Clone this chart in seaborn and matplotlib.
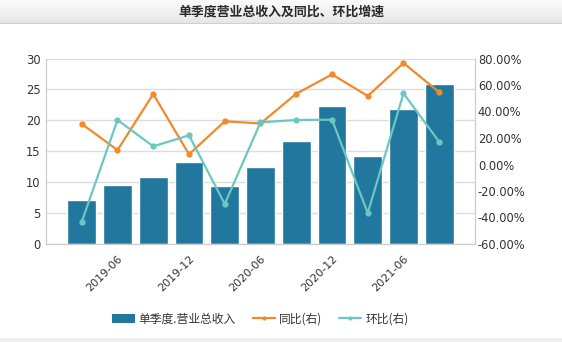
import numpy as np
import pandas as pd
import matplotlib
matplotlib.use("Agg")
import matplotlib.pyplot as plt
from matplotlib.patches import Patch
from matplotlib.lines import Line2D
from matplotlib.ticker import FuncFormatter, MultipleLocator
import seaborn as sns

# Quarterly revenue (single quarter) and growth rates
quarters = ["2019-03", "2019-06", "2019-09", "2019-12", "2020-03", "2020-06",
            "2020-09", "2020-12", "2021-03", "2021-06", "2021-09"]
revenue = [7.1, 9.5, 10.8, 13.2, 9.3, 12.4, 16.6, 22.3, 14.2, 21.9, 25.8]
yoy_pct = [30.6, 10.9, 53.2, 7.7, 32.6, 31.0, 53.4, 68.0, 51.7, 76.6, 54.5]
qoq_pct = [-43.2, 33.6, 13.7, 22.0, -29.8, 31.8, 33.6, 33.8, -36.6, 53.7, 17.0]
shown_ticks = ["2019-06", "2019-12", "2020-06", "2020-12", "2021-06"]

title_text = "单季度营业总收入及同比、环比增速"
bar_label = "单季度.营业总收入"
yoy_label = "同比(右)"
qoq_label = "环比(右)"

BAR_C = "#22779f"
YOY_C = "#f08a2a"
QOQ_C = "#6cc7c2"
TXT_C = "#333333"
GRID_C = "#dddddd"

sns.set_theme(style="white")
plt.rcParams["font.family"] = ["DejaVu Sans", "Noto Sans CJK SC"]

df = pd.DataFrame({"quarter": quarters, "revenue": revenue,
                   "yoy": yoy_pct, "qoq": qoq_pct})

W, H = 562, 342
fig = plt.figure(figsize=(W / 100, H / 100), dpi=100)
fig.patch.set_facecolor("white")

# header band with a soft vertical gradient
hdr_h = 24
hax = fig.add_axes([0, 1 - hdr_h / H, 1, hdr_h / H])
grad = np.linspace(0, 1, 64).reshape(-1, 1)
top_c = np.array([0.985, 0.985, 0.985])
bot_c = np.array([0.90, 0.90, 0.90])
img = top_c + (bot_c - top_c) * grad[..., None]
hax.imshow(img, aspect="auto", extent=[0, 1, 0, 1])
hax.axhline(0.0, color="#cfcfcf", lw=1.5)
hax.set_axis_off()
hax.text(0.5, 0.5, title_text, ha="center", va="center", fontsize=9.3,
         fontweight="bold", color="#2a2a2a",
         family=["Noto Sans CJK SC", "DejaVu Sans"])

# thin band at the bottom edge
bax = fig.add_axes([0, 0, 1, 4 / H])
bax.set_axis_off()
bax.add_patch(plt.Rectangle((0, 0), 1, 1, color="#efefef", transform=bax.transAxes))

left, right, bottom, top = 46, 475, 244, 58.5
ax = fig.add_axes([left / W, 1 - bottom / H, (right - left) / W, (bottom - top) / H])

sns.barplot(data=df, x="quarter", y="revenue", order=quarters, color=BAR_C,
            saturation=1, width=0.81, ax=ax, zorder=2)
ax.set_xlim(-1, 11)
ax.set_ylim(0, 30)
ax.yaxis.set_major_locator(MultipleLocator(5))
ax.yaxis.grid(True, color=GRID_C, lw=1)
ax.set_axisbelow(True)
ax.set_xlabel("")
ax.set_ylabel("")

ax2 = ax.twinx()
sns.lineplot(data=df, x="quarter", y="yoy", ax=ax2, color=YOY_C, lw=1.6,
             marker="o", markersize=4.5, markeredgewidth=0, sort=False)
sns.lineplot(data=df, x="quarter", y="qoq", ax=ax2, color=QOQ_C, lw=1.6,
             marker="o", markersize=4.5, markeredgewidth=0, sort=False)
ax2.set_ylim(-60, 80)
ax2.yaxis.set_major_locator(MultipleLocator(20))
ax2.yaxis.set_major_formatter(FuncFormatter(lambda v, p: f"{v:.2f}%"))
ax2.set_xlabel("")
ax2.set_ylabel("")
ax2.grid(False)
ax.set_xlim(-1, 11)

# x ticks: every other quarter
pos = [quarters.index(q) for q in shown_ticks]
ax.set_xticks(pos)
ax.set_xticklabels(shown_ticks, rotation=45, ha="right", rotation_mode="anchor",
                   fontsize=8, color=TXT_C)
ax.tick_params(axis="x", length=4, width=0.8, color="#999999", pad=3, direction="out")
ax.tick_params(axis="y", length=0, labelsize=8.3, labelcolor=TXT_C, pad=4)
ax2.tick_params(axis="y", length=0, labelsize=8.3, labelcolor=TXT_C, pad=2)

for a in (ax, ax2):
    a.spines["top"].set_visible(False)
    for s in ("left", "right", "bottom"):
        a.spines[s].set_color("#cccccc")
        a.spines[s].set_linewidth(0.8)

# legend below the plot
handles = [
    Patch(facecolor=BAR_C, edgecolor="none", label=bar_label),
    Line2D([0], [0], color=YOY_C, lw=1.6, marker="o", markersize=2, label=yoy_label),
    Line2D([0], [0], color=QOQ_C, lw=1.6, marker="o", markersize=2, label=qoq_label),
]
fig.legend(handles=handles, loc="center", ncol=3, frameon=False,
           bbox_to_anchor=((left + right) / 2 / W, 1 - 319 / H),
           prop={"family": ["Noto Sans CJK SC", "DejaVu Sans"], "size": 8.5},
           labelcolor=TXT_C, handlelength=1.9, handleheight=0.8,
           handletextpad=0.35, columnspacing=1.4)

fig.savefig("out.png", dpi=100)
